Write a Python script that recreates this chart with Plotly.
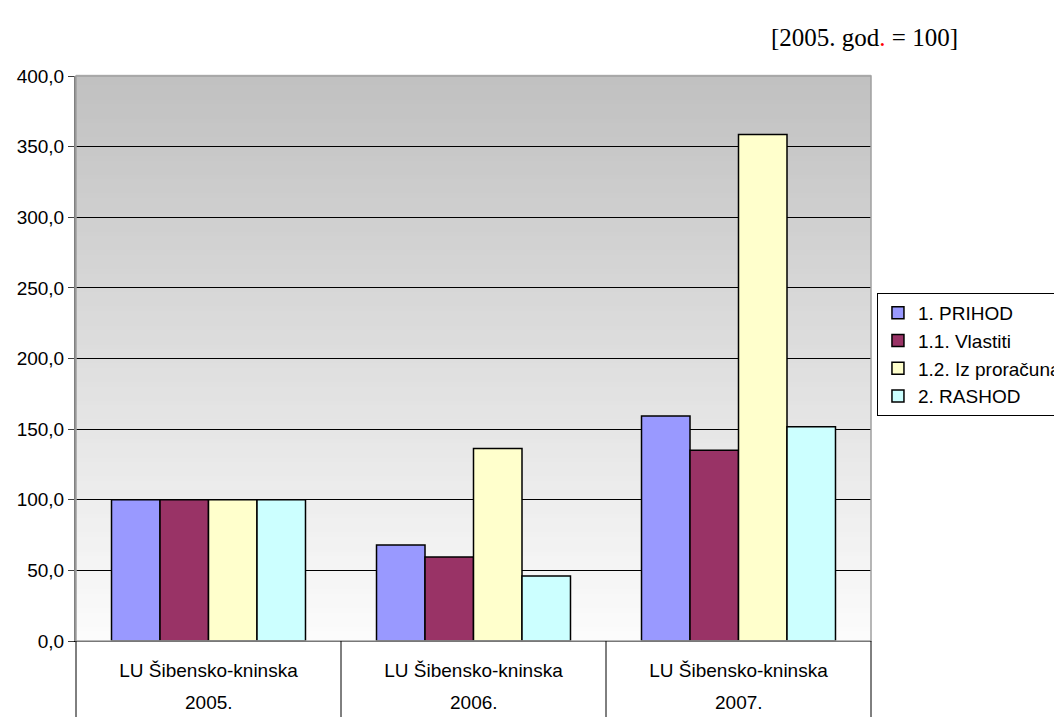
import plotly.graph_objects as go

years = ["2005.", "2006.", "2007."]
units = ["LU Šibensko-kninska", "LU Šibensko-kninska", "LU Šibensko-kninska"]

series_names = ["1. PRIHOD", "1.1. Vlastiti", "1.2. Iz proračuna", "2. RASHOD"]
prihod = [100.0, 68.0, 159.3]
vlastiti = [100.0, 59.5, 135.0]
iz_proracuna = [100.0, 136.2, 358.5]
rashod = [100.0, 46.0, 151.7]

colors = ["#9999FF", "#993366", "#FFFFCC", "#CCFFFF"]

fig = go.Figure()

for i, (name, vals, col) in enumerate(zip(series_names, [prihod, vlastiti, iz_proracuna, rashod], colors)):
    fig.add_trace(go.Bar(
        x=years, y=vals,
        name=name, legendgroup=f"g{i}",
        marker=dict(color=col, line=dict(color="black", width=1.5))
    ))

# grey-to-white gradient behind the plot area
n = 120
for i in range(n):
    t = i / n
    c = int(round(192 + (252 - 192) * (1 - t)))
    fig.add_shape(
        type="rect", xref="x domain", yref="y domain",
        x0=0, x1=1, y0=t, y1=t + 1.0 / n + 0.002,
        fillcolor=f"rgb({c},{c},{c})", line=dict(width=0),
        layer="below"
    )

# plot area border
fig.add_shape(type="rect", xref="x domain", yref="y domain",
              x0=0, x1=1, y0=0, y1=1,
              line=dict(color="#a0a0a0", width=1.5), layer="above")

# category table below the axis: dividers + year row
ncat = len(years)
for k in range(ncat + 1):
    fig.add_shape(type="line", xref="x domain", yref="paper",
                  x0=k / ncat, x1=k / ncat, y0=0, y1=-0.16,
                  line=dict(color="black", width=1))
for k, yr in enumerate(years):
    fig.add_annotation(text=yr, x=(k + 0.5) / ncat, xref="x domain",
                       yref="paper", y=-0.108,
                       showarrow=False, xanchor="center", yanchor="middle",
                       font=dict(size=19))

fig.add_annotation(
    text="[2005. god<span style='color:red'>.</span> = 100]",
    xref="paper", yref="paper", x=0.992, y=1.069,
    xanchor="center", yanchor="middle", showarrow=False,
    font=dict(family="Liberation Serif", size=25, color="black")
)

fig.update_layout(
    width=1062, height=717,
    margin=dict(l=68, r=199, t=68, b=84, autoexpand=False),
    paper_bgcolor="white",
    plot_bgcolor="rgba(0,0,0,0)",
    barmode="group",
    bargap=0.268, bargroupgap=0,
    separators=",.",
    font=dict(family="Liberation Sans, Arial", size=19, color="black"),
    showlegend=True,
    legend=dict(
        x=1.0075, y=0.616, xanchor="left", yanchor="top",
        bgcolor="white", bordercolor="black", borderwidth=1,
        font=dict(size=19),
        traceorder="grouped", tracegroupgap=0
    ),
    xaxis=dict(
        type="category", range=[-0.5, ncat - 0.5],
        showline=True, linecolor="black", linewidth=1,
        tickvals=years, ticktext=units,
        ticks="", ticklabelstandoff=12,
        tickfont=dict(size=19),
        showgrid=False
    ),
    yaxis=dict(
        range=[0, 400], dtick=50, tickformat=".1f",
        showgrid=True, gridcolor="black", gridwidth=1,
        showline=True, linecolor="#808080", linewidth=2,
        ticks="outside", ticklen=6, tickcolor="#404040",
        zeroline=False,
        tickfont=dict(size=19)
    )
)

fig.write_html("out.html")
